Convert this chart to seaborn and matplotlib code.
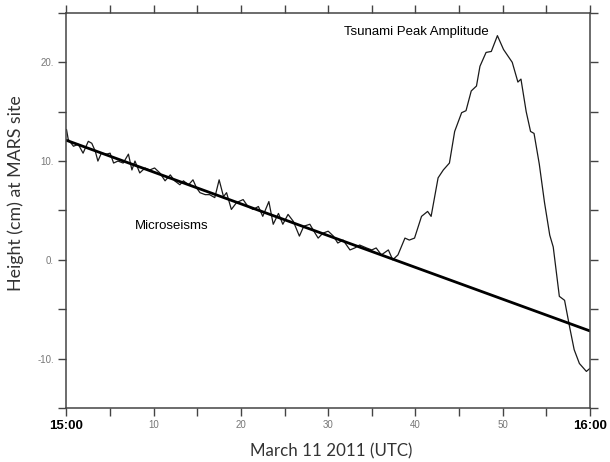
import matplotlib
matplotlib.use('Agg')
import matplotlib.pyplot as plt
import seaborn as sns
import pandas as pd

# ----------------------------------------------------------------------------
# data (minutes after 15:00 UTC, height in cm)
# ----------------------------------------------------------------------------
minutes = [0.0, 0.2, 0.8, 1.35, 1.9, 2.5, 2.9, 3.3, 3.6, 4.0, 4.6, 5.0, 5.4,
           5.9, 6.5, 7.1, 7.5, 7.85, 8.4, 9.0, 9.55, 10.1, 10.7, 11.3, 11.9,
           12.4, 13.0, 13.4, 14.0, 14.5, 14.9, 15.3, 15.9, 16.4, 17.0, 17.5,
           18.0, 18.35, 18.9, 19.5, 20.25, 20.8, 21.4, 22.0, 22.5, 23.2, 23.7,
           24.3, 24.8, 25.4, 26.0, 26.7, 27.2, 27.9, 28.5, 28.85, 29.4, 30.0,
           30.6, 31.1, 31.7, 32.5, 33.05, 33.6, 34.4, 35.0, 35.5, 36.1, 36.9,
           37.4, 38.0, 38.8, 39.3, 39.9, 40.7, 41.4, 41.8, 42.6, 43.2, 43.9,
           44.5, 45.3, 45.8, 46.4, 47.0, 47.4, 48.1, 48.7, 49.4, 50.1, 51.1,
           51.75, 52.1, 52.7, 53.2, 53.6, 54.2, 54.8, 55.4, 55.8, 56.5, 57.1,
           57.7, 58.2, 58.8, 59.6, 60.0]
height_cm = [13.2, 12.2, 11.5, 11.7, 10.8, 12.0, 11.8, 11.0, 10.0, 10.8, 10.7,
             10.8, 9.8, 10.0, 9.8, 10.7, 9.1, 10.0, 8.8, 9.3, 9.1, 9.3, 8.8,
             8.0, 8.6, 8.0, 7.6, 8.0, 7.6, 8.1, 7.3, 6.8, 6.6, 6.6, 6.3, 8.1,
             6.4, 6.8, 5.1, 5.8, 6.1, 5.4, 5.1, 5.4, 4.4, 5.9, 3.6, 4.7, 3.6,
             4.6, 3.9, 2.4, 3.4, 3.6, 2.7, 2.2, 2.7, 2.9, 2.4, 1.7, 2.0, 1.0,
             1.2, 1.5, 1.2, 1.0, 1.2, 0.5, 1.0, 0.0, 0.5, 2.2, 2.0, 2.2, 4.4,
             4.9, 4.4, 8.3, 9.1, 9.8, 13.0, 14.9, 15.1, 17.1, 17.6, 19.6, 21.0,
             21.1, 22.7, 21.3, 20.0, 18.0, 18.3, 15.0, 13.0, 12.8, 9.7, 5.8,
             2.5, 1.3, -3.7, -4.1, -6.9, -9.1, -10.5, -11.3, -11.0]

# linear trend (tide) through the microseism part
trend_minutes = [0, 60]
trend_cm = [12.1, -7.2]

x_ticks = list(range(0, 61, 5))
x_labels = {0: '15:00', 10: '10', 20: '20', 30: '30', 40: '40', 50: '50', 60: '16:00'}
y_ticks = list(range(-15, 26, 5))
y_labels = {-10: '-10.', 0: '0.', 10: '10.', 20: '20.'}

df = pd.DataFrame({'minutes': minutes, 'height': height_cm})
trend = pd.DataFrame({'minutes': trend_minutes, 'height': trend_cm})

sns.set_theme(style='ticks')
plt.rcParams['font.family'] = ['Liberation Sans', 'DejaVu Sans']

fig = plt.figure(figsize=(6.1, 4.62), dpi=100)
ax = fig.add_axes([0.109, 0.117, 0.858, 0.855])

sns.lineplot(data=df, x='minutes', y='height', ax=ax, color='#1a1a1a',
             linewidth=0.9, sort=False)
sns.lineplot(data=trend, x='minutes', y='height', ax=ax, color='black',
             linewidth=2.0)

ax.set_xlim(0, 60)
ax.set_ylim(-15, 25)

ax.set_xticks(x_ticks)
ax.set_xticklabels([x_labels.get(t, '') for t in x_ticks])
ax.set_yticks(y_ticks)
ax.set_yticklabels([y_labels.get(t, '') for t in y_ticks])

for lab, t in zip(ax.get_xticklabels(), x_ticks):
    if t in (0, 60):
        lab.set_fontsize(9.5)
        lab.set_fontweight('bold')
        lab.set_color('black')
    else:
        lab.set_fontsize(7)
        lab.set_color('#777777')
for lab in ax.get_yticklabels():
    lab.set_fontsize(7)
    lab.set_color('#777777')

ax.tick_params(axis='both', direction='out', length=6, width=1.0,
               color='#444444', top=True, right=True, pad=3)

for side in ['left', 'right', 'top', 'bottom']:
    ax.spines[side].set_visible(True)
    ax.spines[side].set_color('#444444')
    ax.spines[side].set_linewidth(1.1)

ax.set_xlabel('March 11 2011 (UTC)', family=['Lato', 'DejaVu Sans'],
              fontsize=12.2, color='#333333')
ax.set_ylabel('Height (cm) at MARS site', family=['Lato', 'DejaVu Sans'],
              fontsize=12.8, color='#333333')
ax.xaxis.set_label_coords(0.505, -0.089)
ax.yaxis.set_label_coords(-0.082, 0.544)

ax.text(31.8, 23.1, 'Tsunami Peak Amplitude', fontsize=9.5, color='black',
        va='center', ha='left')
ax.text(7.8, 3.4, 'Microseisms', fontsize=9.5, color='black',
        va='center', ha='left')

fig.savefig('out.png', dpi=100)
